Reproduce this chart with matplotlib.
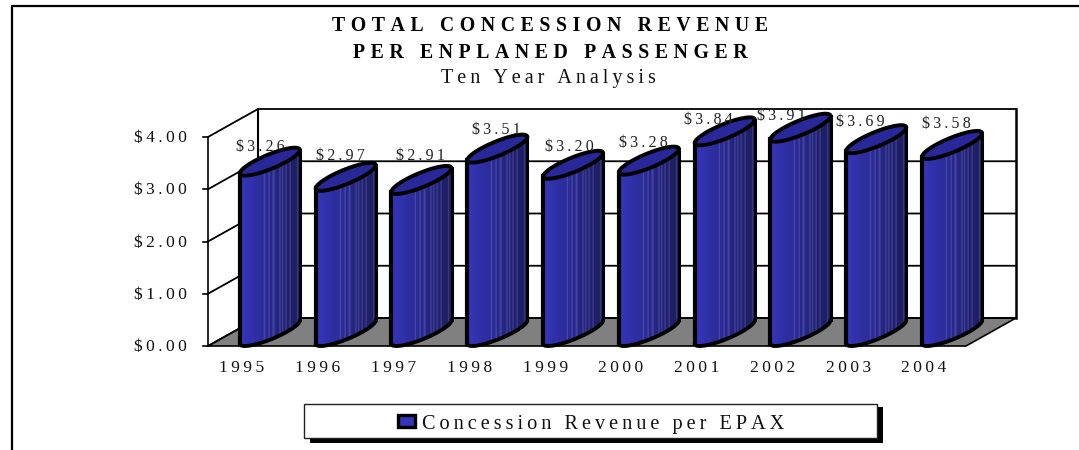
import numpy as np
import matplotlib
matplotlib.use('Agg')
import matplotlib.pyplot as plt
from matplotlib.patches import Polygon, Rectangle

plt.rcParams['font.family'] = ['Liberation Serif', 'DejaVu Serif']

years = ['1995', '1996', '1997', '1998', '1999', '2000', '2001', '2002', '2003', '2004']
revenue = [3.26, 2.97, 2.91, 3.51, 3.20, 3.28, 3.84, 3.91, 3.69, 3.58]
value_ticks = [0, 1, 2, 3, 4]
title_lines = ['TOTAL CONCESSION REVENUE', 'PER ENPLANED PASSENGER']
subtitle = 'Ten Year Analysis'
legend_label = 'Concession Revenue per EPAX'

# label nudges in pixels, the original chart places them unevenly
label_dx = [5, 9, 13, 13, 10, 9, -2, -5, -2, 8]
label_dy = [8, 2, -1, 4, 5, 5, 11, 11, 5, 2]

W, H = 1079, 450
THIN = '\u2009'
WIDE = '\u2009\u200a'


def spaced(s, sep=THIN):
    return sep.join(s)


fig = plt.figure(figsize=(W / 100, H / 100), dpi=100)
bg = fig.add_axes([0, 0, 1, 1])
bg.set_xlim(0, W)
bg.set_ylim(H, 0)
bg.axis('off')

# outer frame, only left and top are visible
bg.plot([11.5, 11.5, W], [H, 6, 6], color='black', lw=1.6)

# main axes: front plane of the 3d box, x in categories, y in dollars
left, right, bottom, top = 208, 966, 346, 137
ax = fig.add_axes([left / W, 1 - bottom / H, (right - left) / W, (bottom - top) / H])
ax.axis('off')

n = len(years)
per_x = (right - left) / n
per_y = (bottom - top) / 4
# depth of the box in data units
dx = 50 / per_x
dy = 28 / per_y


def proj(x, d, v):
    return x + d * dx, v + d * dy


line_kw = dict(color='black', clip_on=False)

# floor
floor = [proj(0, 0, 0), proj(n, 0, 0), proj(n, 1, 0), proj(0, 1, 0)]
ax.add_patch(Polygon(floor, closed=True, fc='#808080', ec='black', lw=1.2, clip_on=False, zorder=1))

# walls and value axis
for v in value_ticks:
    x0, y0 = proj(0, 0, v)
    x1, y1 = proj(0, 1, v)
    x2, y2 = proj(n, 1, v)
    ax.plot([x0, x1, x2], [y0, y1, y2], lw=1.3, zorder=2, **line_kw)
    ax.plot([x0 - 5 / per_x, x0], [y0, y0], lw=1.2, zorder=2, **line_kw)
    ax.text(x0 - 21 / per_x, v - 1 / per_y, spaced(f'${v:.2f}'), ha='right', va='center', fontsize=12.5,
            color='#111111', clip_on=False)
ax.plot([0, 0], [0, 4], lw=1.2, zorder=2, **line_kw)
ax.plot([proj(0, 1, 0)[0]] * 2, [proj(0, 1, 0)[1], proj(0, 1, 4)[1]], lw=1.5, zorder=2, **line_kw)
ax.plot([proj(n, 1, 0)[0]] * 2, [proj(n, 1, 0)[1], proj(n, 1, 4)[1]], lw=1.8, zorder=2, **line_kw)

# horizontal shading of a cylinder, with the pale stripes of the original
light = np.array([0.21, 0.21, 0.74])
dark = np.array([0.11, 0.11, 0.36])
stripes = [0.40, 0.48, 0.55, 0.66, 0.70, 0.76, 0.83, 0.95]
frac = np.linspace(0, 1, 90)
shade = light + (dark - light) * frac[:, None]
for s in stripes:
    shade[np.abs(frac - s) < 0.012] += 0.11
shade = np.clip(shade, 0, 1)[None, :, :]

# cylinders
rx = 16.6 / per_x
t = np.linspace(0, 2 * np.pi, 181)
a0 = np.arctan2(-0.5 * dx, -rx)
a1 = np.arctan2(0.5 * dx, rx)
if a1 < a0:
    a1 += 2 * np.pi
ta = np.linspace(a0, a1, 200)
if np.sin(ta[100]) > 0:
    ta = np.linspace(a0, a1 - 2 * np.pi, 200)

for i, val in enumerate(revenue):
    cx = i + 0.5 - 1 / per_x
    ex = cx + rx * np.cos(t) + 0.5 * dx + 0.5 * dx * np.sin(t)
    ey = 0.5 * dy + 0.5 * dy * np.sin(t)
    fx = cx + rx * np.cos(ta) + 0.5 * dx + 0.5 * dx * np.sin(ta)
    fy = 0.5 * dy + 0.5 * dy * np.sin(ta)
    lo, hi = fx[0], fx[-1]

    body = Polygon(np.column_stack([np.r_[fx, fx[::-1]], np.r_[fy, fy[::-1] + val]]), closed=True,
                   transform=ax.transData, fc='none', ec='none')
    ax.add_patch(body)
    im = ax.imshow(shade, extent=[lo, hi, 0, val + dy], aspect='auto', zorder=3, interpolation='bilinear')
    im.set_clip_path(body)
    im.set_clip_box(fig.bbox)

    ax.plot(fx, fy, lw=2.8, zorder=4, solid_capstyle='round', **line_kw)
    ax.plot([lo, lo], [fy[0], fy[0] + val], lw=3, zorder=4, **line_kw)
    ax.plot([hi, hi], [fy[-1], fy[-1] + val], lw=2.2, zorder=4, **line_kw)
    ax.add_patch(Polygon(np.column_stack([ex, ey + val]), closed=True, fc='#28289a', ec='black', lw=2.8,
                         zorder=5, clip_on=False))
    ax.text(i + 0.63 + label_dx[i] / per_x, val + dy * 1.02 - label_dy[i] / per_y, spaced(f'${val:.2f}'),
            ha='center', va='bottom', fontsize=11.5, color='#222222', zorder=6, clip_on=False)
    ax.text(i + 0.5 - 4 / per_x, -0.43, spaced(years[i]), ha='center', va='center', fontsize=12.5,
            color='#111111', clip_on=False)

ax.set_xlim(0, n)
ax.set_ylim(0, 4)

# titles
bg.text(550, 26, spaced(title_lines[0], WIDE), ha='center', va='center', fontsize=14.2, fontweight='bold', color='black')
bg.text(550, 53, spaced(title_lines[1], WIDE), ha='center', va='center', fontsize=14.2, fontweight='bold', color='black')
bg.text(548, 78, spaced(subtitle), ha='center', va='center', fontsize=14.5, color='#111111')

# legend box with drop shadow
bg.add_patch(Rectangle((310, 407), 573, 36, fc='black', ec='none', zorder=1))
bg.add_patch(Rectangle((304, 404), 573, 34, fc='white', ec='#222222', lw=1.0, zorder=2))
bg.add_patch(Rectangle((398, 415), 17, 12, fc='#3333bb', ec='black', lw=2.4, zorder=3))
bg.text(422, 424, spaced(legend_label), ha='left', va='center', fontsize=14.6, color='#111111', zorder=3)

fig.savefig('out.png', dpi=100)
